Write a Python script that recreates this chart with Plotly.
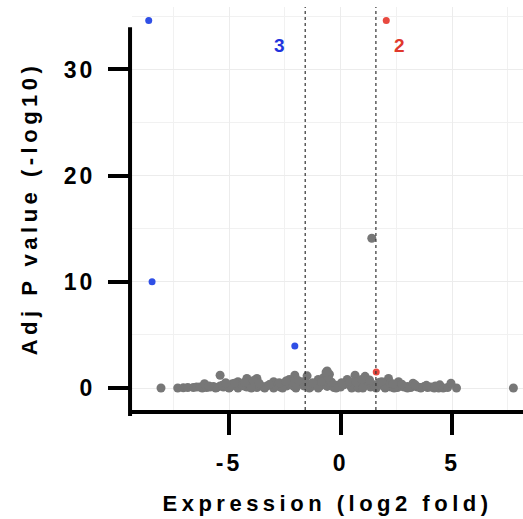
import plotly.graph_objects as go

# ---- data ----
gray_x = [-8.05, -7.3, -7.05, -6.85, -6.6, -6.45, -6.3, -6.15, -6.0, -5.85, -5.7, -5.55, -5.4, -5.25,
          -5.1, -4.95, -4.8, -4.65, -4.5, -4.35, -4.2, -4.05, -3.9, -3.75, -3.6, -3.45, -3.3, -3.15,
          -3.0, -2.85, -2.7, -2.55, -2.4, -2.25, -2.1, -1.95, -1.8, -1.65, -1.5, -1.35, -1.2, -1.05,
          -0.9, -0.75, -0.6, -0.45, -0.3, -0.15, 0.0, 0.15, 0.3, 0.45, 0.6, 0.75, 0.9, 1.05, 1.2,
          1.35, 1.5, 1.65, 1.8, 1.95, 2.1, 2.25, 2.4, 2.55, 2.7, 2.85, 3.0, 3.15, 3.3, 3.45, 3.6,
          3.75, 3.9, 4.05, 4.2, 4.35, 4.6, 4.8, 5.2, 7.75,
          -6.2, -5.6, -5.0, -4.6, -4.0, -3.4, -3.0, -2.6, -2.0, -1.4, -1.0, -0.2, 0.5, 0.8, 1.0,
          1.6, 2.0, 2.4, 3.0, 3.6, 4.4,
          -5.4, -4.2, -3.75, -4.6, -3.9, -2.05, -1.5, -2.3, -0.6, -0.5, -0.75, 0.65, 1.1, 0.3,
          2.15, 2.6, 3.25, 4.45, 4.95, -1.0, -3.0, -6.1, 1.4,
          -5.9, -5.3, -4.85, -4.4, -3.65, -3.2, -2.75, -2.2, -1.7, -1.25, -0.85, -0.4, 0.05, 0.4,
          0.7, 1.25, 1.75, 2.2, 2.75, 3.35, 3.85, 4.25, -0.55, -0.65, 0.95, 1.3, -1.9, -2.45,
          -4.3, -4.75, -5.15, 2.35, 1.85]
gray_y = [0.0, 0.0, 0.02, 0.05, 0.05, 0.1, 0.1, 0.15, 0.05, 0.1, 0.15, 0.05, 0.2, 0.1,
          0.25, 0.1, 0.3, 0.15, 0.35, 0.2, 0.1, 0.3, 0.15, 0.05, 0.25, 0.1, 0.2, 0.35,
          0.15, 0.3, 0.1, 0.4, 0.2, 0.45, 0.15, 0.3, 0.5, 0.2, 0.4, 0.1, 0.35, 0.5,
          0.2, 0.4, 0.15, 0.3, 0.05, 0.25, 0.1, 0.3, 0.45, 0.2, 0.35, 0.15, 0.5, 0.25, 0.4,
          0.1, 0.3, 0.2, 0.45, 0.15, 0.3, 0.1, 0.25, 0.05, 0.2, 0.1, 0.15, 0.05, 0.2, 0.1, 0.05,
          0.15, 0.05, 0.1, 0.0, 0.05, 0.0, 0.05, 0.0, 0.0,
          0.0, 0.0, 0.0, 0.0, 0.0, 0.0, 0.0, 0.0, 0.0, 0.0, 0.0, 0.0, 0.0, 0.0, 0.0,
          0.0, 0.0, 0.0, 0.0, 0.0, 0.0,
          1.2, 0.9, 0.9, 0.6, 0.7, 1.2, 1.15, 0.8, 1.6, 1.3, 1.0, 1.2, 1.1, 0.8,
          0.9, 0.6, 0.45, 0.3, 0.45, 0.8, 0.6, 0.4, 14.1,
          0.2, 0.25, 0.4, 0.3, 0.45, 0.3, 0.5, 0.55, 0.6, 0.5, 0.6, 0.55, 0.5, 0.6,
          0.55, 0.6, 0.55, 0.45, 0.35, 0.3, 0.25, 0.2, 1.0, 1.5, 0.8, 0.75, 0.7, 0.65,
          0.55, 0.45, 0.5, 0.4, 0.6]

down_x = [-8.6, -8.45, -2.05]
down_y = [34.6, 10.0, 3.95]
up_x = [2.05, 1.6]
up_y = [34.6, 1.5]

fc_cut = 1.585
count_labels = ["3", "2"]
count_x = [-2.75, 2.65]
count_y = [32.3, 32.3]

x_ticks = [-5, 0, 5]
y_ticks = [0, 10, 20, 30]

FONT = "Liberation Sans, Arial, sans-serif"

fig = go.Figure()
fig.add_trace(go.Scatter(x=gray_x, y=gray_y, mode="markers",
                         marker=dict(size=9, color="#777777", line=dict(width=0)),
                         showlegend=False, hoverinfo="skip", cliponaxis=False))
fig.add_trace(go.Scatter(x=down_x, y=down_y, mode="markers",
                         marker=dict(size=7, color="#2f4fe6"), showlegend=False, cliponaxis=False))
fig.add_trace(go.Scatter(x=up_x, y=up_y, mode="markers",
                         marker=dict(size=7, color="#e8493f"), showlegend=False, cliponaxis=False))

for xv in (-fc_cut, fc_cut):
    fig.add_vline(x=xv, line=dict(color="#333333", width=1.2, dash="3px,3px"))

colors = ["#2233dd", "#e0382c"]
for t, xx, yy, c in zip(count_labels, count_x, count_y, colors):
    fig.add_annotation(x=xx, y=yy, text=t, showarrow=False,
                       font=dict(family=FONT, size=19, color=c, weight="bold"))

# y axis line (starts below the top of the panel, as in the reference)
fig.add_shape(type="line", xref="x domain", yref="y domain", x0=-0.005, x1=-0.005,
              y0=-0.015, y1=0.95, line=dict(color="black", width=4))

fig.update_layout(
    width=523, height=519,
    margin=dict(l=132, r=0, t=7, b=109, autoexpand=False),
    plot_bgcolor="white", paper_bgcolor="white",
    font=dict(family=FONT, color="black"),
)
fig.update_xaxes(
    automargin=False,
    range=[-9.35, 8.18], tickvals=x_ticks, ticktext=[str(v) for v in x_ticks],
    showgrid=True, gridcolor="#ececec", gridwidth=1,
    minor=dict(dtick=2.5, tick0=0, showgrid=True, gridcolor="#f1f1f1", gridwidth=1),
    zeroline=False, showline=True, linecolor="black", linewidth=4,
    ticks="outside", ticklen=21, tickwidth=4, tickcolor="black",
    tickfont=dict(size=23, family=FONT, weight="bold"), ticklabelstandoff=8,
    title=dict(text="Expression (log2 fold)", standoff=22,
               font=dict(size=22, family=FONT, weight="bold")),
)
fig.update_yaxes(
    automargin=False,
    range=[-2.07, 35.88], tickvals=y_ticks, ticktext=[str(v) for v in y_ticks],
    showgrid=True, gridcolor="#ececec", gridwidth=1,
    minor=dict(dtick=5, tick0=0, showgrid=True, gridcolor="#f1f1f1", gridwidth=1),
    zeroline=False, showline=False,
    ticks="outside", ticklen=23, tickwidth=4, tickcolor="black",
    tickfont=dict(size=23, family=FONT, weight="bold"), ticklabelstandoff=8,
    title=dict(text="Adj P value (-log10)", standoff=26,
               font=dict(size=22, family=FONT, weight="bold")),
)

post = """
document.body.style.margin = '0';
var gd = document.getElementById('{plot_id}');
function ls(){
  gd.querySelectorAll('.xtitle, .ytitle').forEach(function(e){e.setAttribute('letter-spacing','4.5px');});
  gd.querySelectorAll('.xtick text, .ytick text').forEach(function(e){e.setAttribute('letter-spacing','3px');});
}
ls(); gd.on('plotly_afterplot', ls);
"""
fig.write_html("out.html", post_script=post, config={"displayModeBar": False})
